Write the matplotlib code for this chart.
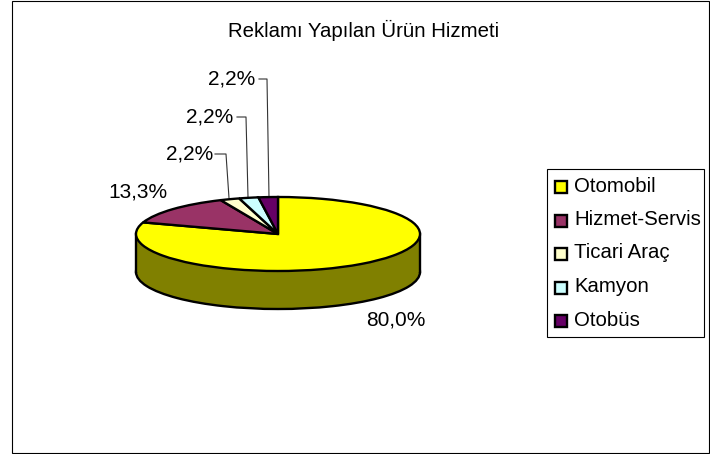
import matplotlib
matplotlib.use("Agg")
import matplotlib.pyplot as plt
from matplotlib.patches import Rectangle
from matplotlib.transforms import Affine2D

plt.rcParams['font.family'] = ['Liberation Sans', 'DejaVu Sans']

title = "Reklamı Yapılan Ürün Hizmeti"
categories = ["Otomobil", "Hizmet-Servis", "Ticari Araç", "Kamyon", "Otobüs"]
values = [80.0, 13.3, 2.2, 2.2, 2.2]
labels = ["80,0%", "13,3%", "2,2%", "2,2%", "2,2%"]
colors = ["#FFFF00", "#993366", "#FFFFCC", "#CCFFFF", "#660066"]
side_color = "#808000"

fig = plt.figure(figsize=(7.10, 4.54), dpi=100)
# whole figure in pixel coordinates, y pointing down
ax = fig.add_axes([0, 0, 1, 1])

cx, cy, rx, ry, depth = 278, 234, 142, 37, 38


def flat_pie(vals, center_y, cols):
    wedges, _ = ax.pie(vals, colors=cols, startangle=90, counterclock=False,
                       wedgeprops=dict(edgecolor="black", linewidth=1.7))
    for w in wedges:
        # squash the unit pie into the tilted ellipse, -ry because y is flipped
        w.set_transform(Affine2D().scale(rx, -ry).translate(cx, center_y) + ax.transData)
    return wedges


# side wall: a whole lower disc plus the band joining it to the top
flat_pie([sum(values)], cy + depth, [side_color])
ax.add_patch(Rectangle((cx - rx, cy), 2 * rx, depth, fc=side_color, ec="none", zorder=2))
ax.plot([cx - rx, cx - rx], [cy, cy + depth], color="black", lw=1.7, zorder=2)
ax.plot([cx + rx, cx + rx], [cy, cy + depth], color="black", lw=1.7, zorder=2)
for w in flat_pie(values, cy, colors):
    w.set_zorder(3)

ax.set_xlim(0, 710)
ax.set_ylim(454, 0)
ax.set_aspect("auto")
ax.axis("off")

ax.add_patch(Rectangle((12, 1), 697, 452, fc="white", ec="black", lw=0.8, zorder=0))
ax.text(364, 30, title, ha="center", va="center", fontsize=14.7)

# data labels with leader lines
label_pos = [(396, 320), (138, 192), (190, 154), (210, 117), (232, 79)]
leaders = [None, None,
           [(215, 154), (226, 154), (229, 198)],
           [(237, 117), (246, 117), (248, 197)],
           [(259, 79), (267, 79), (269, 197)]]
for lab, pos, lead in zip(labels, label_pos, leaders):
    ax.text(pos[0], pos[1], lab, ha="center", va="center", fontsize=15)
    if lead:
        ax.plot([p[0] for p in lead], [p[1] for p in lead], color="#333333", lw=0.8, zorder=2.5)

# legend box
ax.add_patch(Rectangle((547, 169), 157, 168, fc="white", ec="black", lw=0.8, zorder=1))
for i, (cat, col) in enumerate(zip(categories, colors)):
    y = 187 + i * 33.5
    ax.add_patch(Rectangle((555, y - 6), 12, 12, fc=col, ec="black", lw=1.7, zorder=2))
    ax.text(574, y - 1, cat, ha="left", va="center", fontsize=14.7)

fig.savefig("out.png", dpi=100)
